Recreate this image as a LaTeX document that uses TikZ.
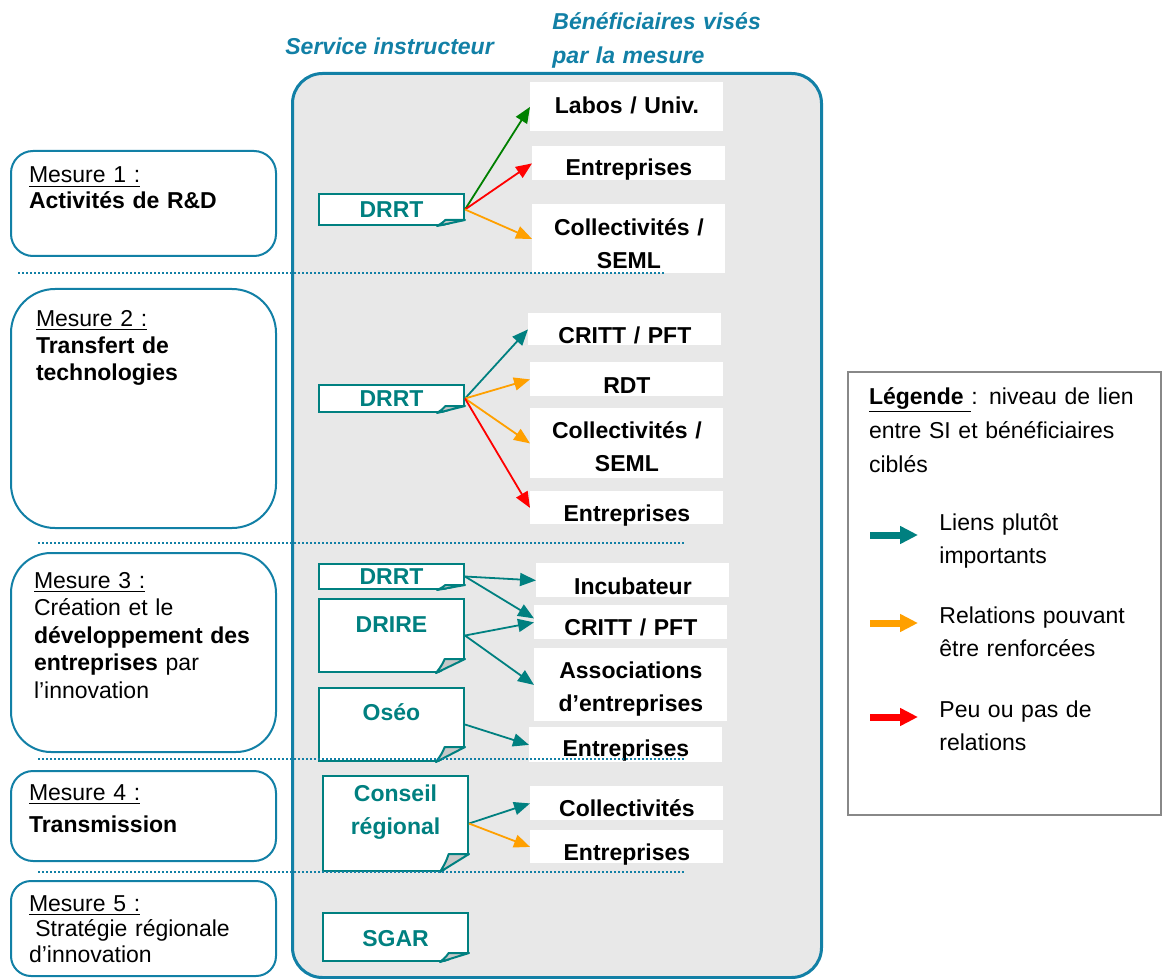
\documentclass[tikz,border=0pt]{standalone}
\usepackage{fontspec}
\setmainfont{Liberation Sans}
\usetikzlibrary{arrows.meta}

\definecolor{frameblue}{RGB}{18,128,166}
\definecolor{tealc}{RGB}{0,128,128}
\definecolor{bggray}{RGB}{232,232,232}
\definecolor{foldgray}{RGB}{200,200,200}
\definecolor{lgray}{RGB}{136,136,136}
\definecolor{greenc}{RGB}{0,128,0}
\definecolor{redc}{RGB}{255,0,0}
\definecolor{orangec}{RGB}{255,160,0}

% folded corner of a service note
\newcommand{\foldcorner}[3]{%
  \fill[bggray] ([shift={(1.5,1.5)}]#1.south east) -- ([shift={(1.5,-#2)}]#1.south east) -- ([shift={(-#3,1.5)}]#1.south east) -- cycle;
  \draw[draw=tealc, line width=1pt, fill=foldgray, line join=round] ([shift={(0,-#2)}]#1.south east) -- ([shift={(-#3,0)}]#1.south east) .. controls ([shift={(-0.8*#3,-0.55*#2)}]#1.south east) .. ([shift={(-0.7*#3,-#2)}]#1.south east) -- cycle;
}

\begin{document}
\begin{tikzpicture}[
    x=0.5pt, y=-0.5pt,
    framebox/.style={draw=frameblue, line width=1.5pt, fill=bggray, rounded corners=15pt, inner sep=0pt, anchor=north west},
    mesure/.style={draw=frameblue, line width=1pt, fill=white, anchor=north west, inner ysep=0pt, align=left},
    service/.style={draw=tealc, line width=1pt, fill=white, anchor=north west, inner sep=0pt, text width=72.5pt, align=center, text=tealc, font=\bfseries\fontsize{11.5}{16.5}\selectfont},
    benef/.style={fill=white, anchor=north west, inner sep=0pt, text width=96.5pt, align=center, font=\bfseries\fontsize{11.5}{16.5}\selectfont},
    titre/.style={inner sep=0pt, text=frameblue, font=\bfseries\itshape\fontsize{11.5}{17}\selectfont},
    link/.style={-{Triangle[length=8pt, width=6.5pt]}, line width=0.9pt},
    sep/.style={draw=frameblue, line width=0.9pt, dash pattern=on 0.9pt off 1.1pt},
    legend/.style={draw=lgray, line width=1pt, fill=white, anchor=north west, inner xsep=10.5pt, inner ysep=0pt, text width=135.5pt, align=left, font=\fontsize{11.5}{17}\selectfont},
    lgtext/.style={anchor=north west, inner sep=0pt, text width=110pt, align=left, text height=9pt, font=\fontsize{11.5}{16.5}\selectfont},
    lgarrow/.style={-{Triangle[length=9pt, width=8.5pt]}, line width=3.5pt}
]
\useasboundingbox (0,0) rectangle (1165,978);

% Titles
\node[titre, anchor=base west] (tservice) at (285,55) {Service instructeur};
\node[titre, anchor=north west, text width=120pt, align=left, text height=9pt] (tbenef) at (552,11) {Bénéficiaires visés\\par la mesure};

% Frame
\node[framebox, minimum width=264.5pt, minimum height=452pt] (frame) at (291,72) {};

% Mesures
\node[mesure, text width=114.5pt, inner xsep=9pt, text height=16pt, text depth=36.5pt, rounded corners=11pt, font=\fontsize{11.5}{13}\selectfont] (m1) at (10,150)
  {\underline{Mesure 1 :}\\\textbf{Activités de R\&D}};
\node[mesure, text width=107.5pt, inner xsep=12.5pt, text height=18.5pt, text depth=101pt, rounded corners=22pt, font=\fontsize{11.5}{13.75}\selectfont] (m2) at (10,288)
  {\underline{Mesure 2 :}\\\textbf{Transfert de}\\\textbf{technologies}};
\node[mesure, text width=109.5pt, inner xsep=11.5pt, text height=17.5pt, text depth=82pt, rounded corners=20pt, font=\fontsize{11.5}{13.75}\selectfont] (m3) at (10,552)
  {\underline{Mesure 3 :}\\Création et le\\\textbf{développement des}\\\textbf{entreprises} par\\l’innovation};
\node[mesure, text width=114.5pt, inner xsep=9pt, text height=14.5pt, text depth=30.5pt, rounded corners=11pt, font=\fontsize{11.5}{16}\selectfont] (m4) at (10,770)
  {\underline{Mesure 4 :}\\\textbf{Transmission}};
\node[mesure, text width=114.5pt, inner xsep=9pt, text height=15pt, text depth=32.5pt, rounded corners=10pt, font=\fontsize{11.5}{12.75}\selectfont] (m5) at (10,880)
  {\underline{Mesure 5 :}\\\hspace*{3.2pt}Stratégie régionale\\d’innovation};

% Services instructeurs
\node[service, text height=12pt, text depth=3.5pt] (drrta) at (318,193) {DRRT};
\node[service, text height=10.5pt, text depth=3pt] (drrtb) at (318,384) {DRRT};
\node[service, text height=10pt, text depth=2.5pt] (drrtc) at (318,563) {DRRT};
\node[service, text height=16.5pt, text depth=20pt] (drire) at (318,598) {DRIRE};
\node[service, text height=16pt, text depth=20.5pt] (oseo) at (318,687) {Oséo};
\node[service, text height=12.5pt, text depth=35pt] (conseil) at (322,775) {Conseil\\régional};
\node[service, text height=16.5pt, text depth=7.5pt] (sgar) at (322,912) {SGAR};
\foldcorner{drrta}{6}{28}
\foldcorner{drrtb}{7}{28}
\foldcorner{drrtc}{5}{28}
\foldcorner{drire}{14}{29}
\foldcorner{oseo}{15}{29}
\foldcorner{conseil}{18}{29}
\foldcorner{sgar}{9}{29}

% Beneficiaires
\node[benef, text height=15.5pt, text depth=9pt] (labos) at (530,82) {Labos / Univ.};
\node[benef, text height=14.5pt, text depth=2.5pt] (entra) at (532,146) {Entreprises};
\node[benef, text height=15.5pt, text depth=19pt] (colla) at (532,204) {Collectivités /\\SEML};
\node[benef, text height=15pt, text depth=1pt] (critta) at (528,313) {CRITT / PFT};
\node[benef, text height=15.5pt, text depth=1.5pt] (rdt) at (530,362) {RDT};
\node[benef, text height=15pt, text depth=20pt] (collb) at (530,408) {Collectivités /\\SEML};
\node[benef, text height=15pt, text depth=1.5pt] (entrb) at (530,491) {Entreprises};
\node[benef, text height=15.5pt, text depth=1.5pt] (incub) at (536,563) {Incubateur};
\node[benef, text height=15pt, text depth=2pt] (crittb) at (534,605) {CRITT / PFT};
\node[benef, text height=15pt, text depth=21.5pt] (assoc) at (534,648) {Associations\\d’entreprises};
\node[benef, text height=14.5pt, text depth=3pt] (entrc) at (529,727) {Entreprises};
\node[benef, text height=15pt, text depth=2pt] (collc) at (530,786) {Collectivités};
\node[benef, text height=15pt, text depth=1.5pt] (entrd) at (530,830) {Entreprises};

% Liens
\draw[link, greenc] (drrta.east) -- (labos.west);
\draw[link, redc] (drrta.east) -- (entra.west);
\draw[link, orangec] (drrta.east) -- (colla.west);
\draw[link, tealc] (drrtb.east) -- (critta.west);
\draw[link, orangec] (drrtb.east) -- (rdt.west);
\draw[link, orangec] (drrtb.east) -- (collb.west);
\draw[link, redc] (drrtb.east) -- (entrb.west);
\draw[link, tealc] (drrtc.east) -- (incub.west);
\draw[link, tealc] (drrtc.east) -- ([yshift=2pt]crittb.west);
\draw[link, tealc] (drire.east) -- (crittb.west);
\draw[link, tealc] (drire.east) -- (assoc.west);
\draw[link, tealc] (oseo.east) -- (entrc.west);
\draw[link, tealc] (conseil.east) -- (collc.west);
\draw[link, orangec] (conseil.east) -- (entrd.west);

% Separateurs
\draw[sep] (18,273) -- (665,273);
\draw[sep] (38,543) -- (685,543);
\draw[sep] (38,759) -- (685,759);
\draw[sep] (38,872) -- (685,872);

% Legende
\node[legend, text height=16pt, text depth=205.5pt] (legende) at (847,371)
  {\underline{\textbf{Légende }}: niveau de lien\\entre SI et bénéficiaires\\ciblés};
\coordinate (la1) at (870,535);
\coordinate (lb1) at (918,535);
\coordinate (la2) at (870,623);
\coordinate (lb2) at (918,623);
\coordinate (la3) at (870,717);
\coordinate (lb3) at (918,717);
\draw[lgarrow, tealc] (la1) -- (lb1);
\draw[lgarrow, orangec] (la2) -- (lb2);
\draw[lgarrow, redc] (la3) -- (lb3);
\node[lgtext] (lt1) at (939,512) {Liens plutôt\\importants};
\node[lgtext] (lt2) at (939,605) {Relations pouvant\\être renforcées};
\node[lgtext] (lt3) at (939,699) {Peu ou pas de\\relations};

\end{tikzpicture}
\end{document}
